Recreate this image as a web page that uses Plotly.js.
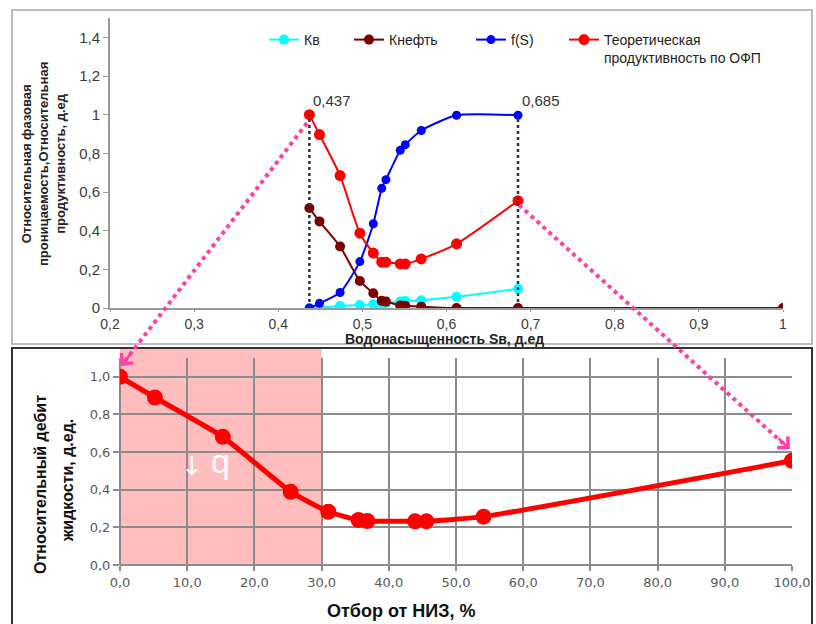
<!DOCTYPE html>
<html>
<head>
<meta charset="utf-8">
<script src="https://cdn.plot.ly/plotly-3.0.1.min.js"></script>
<style>
html,body{margin:0;padding:0;background:#fff;}
#chart{width:816px;height:624px;}
</style>
</head>
<body>
<div id="chart"></div>
<script>
// ---- Top chart data (water saturation, relative permeabilities) ----
var sw      = [0.437, 0.449, 0.4735, 0.497, 0.513, 0.523, 0.528, 0.545, 0.551, 0.570, 0.612, 0.685];
var kvSw    = [0.437, 0.449, 0.4735, 0.497, 0.513, 0.523, 0.528, 0.545, 0.551, 0.570, 0.612, 0.685];
var kv      = [0.0, 0.002, 0.010, 0.015, 0.020, 0.024, 0.026, 0.033, 0.036, 0.040, 0.058, 0.100];
var kneftSw = [0.437, 0.449, 0.4735, 0.497, 0.513, 0.523, 0.528, 0.545, 0.551, 0.570, 0.612, 0.685, 1.0];
var kneft   = [0.517, 0.448, 0.318, 0.140, 0.076, 0.037, 0.033, 0.013, 0.012, 0.007, 0.0, 0.0, 0.0];
var fs      = [0.0, 0.024, 0.080, 0.240, 0.436, 0.619, 0.664, 0.816, 0.845, 0.918, 0.997, 0.997];
var prod    = [1.0, 0.897, 0.685, 0.387, 0.284, 0.237, 0.237, 0.228, 0.228, 0.254, 0.332, 0.555];
var markSw  = [0.437, 0.685];

// ---- Bottom chart data ----
var otbor = [0, 5.2, 15.3, 25.4, 31.0, 35.5, 36.8, 43.9, 45.6, 54.1, 100];
var debit = [1.0, 0.89, 0.681, 0.389, 0.283, 0.239, 0.234, 0.232, 0.232, 0.257, 0.554];
var zoneEnd = 30;

var W = 816, H = 624;
function px(x){ return x / W; }
function py(y){ return 1 - y / H; }

var legFont = {family: 'Liberation Sans, Arial, sans-serif', size: 14, color: '#222'};

var traces = [
  {x: kvSw, y: kv, name: 'Кв', mode: 'lines+markers', xaxis: 'x', yaxis: 'y',
   line: {color: '#00FFFF', width: 2, shape: 'spline', smoothing: 0.6},
   marker: {color: '#00FFFF', size: 10}, legend: 'legend'},
  {x: kneftSw, y: kneft, name: 'Кнефть', mode: 'lines+markers', xaxis: 'x', yaxis: 'y',
   line: {color: '#7B0000', width: 2, shape: 'spline', smoothing: 0.6},
   marker: {color: '#7B0000', size: 10}, legend: 'legend2'},
  {x: sw, y: fs, name: 'f(S)', mode: 'lines+markers', xaxis: 'x', yaxis: 'y',
   line: {color: '#0000FF', width: 2, shape: 'spline', smoothing: 0.6},
   marker: {color: '#0000FF', size: 9}, legend: 'legend3'},
  {x: sw, y: prod, name: 'Теоретическая<br>продуктивность по ОФП', mode: 'lines+markers', xaxis: 'x', yaxis: 'y',
   line: {color: '#FF0000', width: 2, shape: 'spline', smoothing: 0.6},
   marker: {color: '#FF0000', size: 11}, legend: 'legend4'},
  {x: otbor, y: debit, name: 'Относительный дебит', mode: 'lines+markers', xaxis: 'x2', yaxis: 'y2',
   line: {color: '#FF0000', width: 5, shape: 'spline', smoothing: 0.4},
   marker: {color: '#FF0000', size: 16}, showlegend: false}
];

var gridC = '#8c8c8c';
var pink = '#FF3FA4';

function legendAt(xp){
  return {x: px(xp), xanchor: 'left', y: py(24), yanchor: 'top', orientation: 'v',
          bgcolor: 'rgba(0,0,0,0)', font: legFont, valign: 'top', tracegroupgap: 0};
}

var layout = {
  width: W, height: H,
  margin: {l: 0, r: 0, t: 0, b: 0},
  paper_bgcolor: '#ffffff',
  plot_bgcolor: 'rgba(0,0,0,0)',
  separators: ', ',
  font: {family: 'Liberation Sans, Arial, sans-serif', color: '#333'},
  legend: legendAt(264),
  legend2: legendAt(349),
  legend3: legendAt(471),
  legend4: legendAt(564),
  xaxis: {
    domain: [px(110), px(783)], range: [0.2, 1.0], anchor: 'y',
    dtick: 0.1, tick0: 0.2, showgrid: false, zeroline: false,
    showline: true, linecolor: '#9a9a9a', linewidth: 2,
    ticks: 'outside', ticklen: 2, tickcolor: '#9a9a9a',
    tickfont: {family: 'Liberation Sans, Arial, sans-serif', size: 14, color: '#3a3a3a'},
    automargin: false
  },
  yaxis: {
    domain: [py(308), py(18)], range: [0, 1.5], anchor: 'x',
    dtick: 0.2, tick0: 0, showgrid: false, zeroline: false,
    showline: true, linecolor: '#9a9a9a', linewidth: 2,
    ticks: 'outside', ticklen: 5, tickcolor: '#9a9a9a',
    tickfont: {family: 'Liberation Sans, Arial, sans-serif', size: 15, color: '#3a3a3a'},
    automargin: false
  },
  xaxis2: {
    domain: [px(120), px(792)], range: [0, 100], anchor: 'y2',
    dtick: 10, tick0: 0, tickformat: '.1f',
    showgrid: true, gridcolor: gridC, gridwidth: 2,
    zeroline: true, zerolinecolor: gridC, zerolinewidth: 2,
    showline: false, ticks: 'outside', ticklen: 5, tickcolor: gridC, tickwidth: 2,
    tickfont: {family: 'DejaVu Sans, Verdana, sans-serif', size: 13, color: '#595959'},
    automargin: false
  },
  yaxis2: {
    domain: [py(565), py(358)], range: [0, 1.1], anchor: 'x2',
    dtick: 0.2, tick0: 0, tickformat: '.1f',
    showgrid: true, gridcolor: gridC, gridwidth: 2,
    zeroline: true, zerolinecolor: gridC, zerolinewidth: 2,
    showline: false, ticks: 'outside', ticklen: 6, tickcolor: gridC, tickwidth: 2,
    tickfont: {family: 'DejaVu Sans, Verdana, sans-serif', size: 13, color: '#595959'},
    automargin: false
  },
  shapes: [
    // frames
    {type: 'rect', xref: 'paper', yref: 'paper', x0: px(12), x1: px(812), y0: py(344), y1: py(10),
     line: {color: '#a6a6a6', width: 1.5}, layer: 'below'},
    {type: 'rect', xref: 'paper', yref: 'paper', x0: px(12), x1: px(812), y0: py(640), y1: py(348),
     line: {color: '#333333', width: 2}, layer: 'below'},
    // shaded zone in bottom chart
    {type: 'rect', xref: 'x2', yref: 'paper', x0: 0, x1: zoneEnd, y0: py(565), y1: py(349),
     fillcolor: '#FFBDBD', line: {width: 0}, layer: 'below'},
    // vertical dotted marker lines
    {type: 'line', xref: 'x', yref: 'y', x0: markSw[0], x1: markSw[0], y0: 0, y1: 1,
     line: {color: '#333', width: 2.5, dash: 'dot'}},
    {type: 'line', xref: 'x', yref: 'y', x0: markSw[1], x1: markSw[1], y0: 0, y1: 1,
     line: {color: '#333', width: 2.5, dash: 'dot'}},
    // pink dotted connector arrows
    {type: 'line', xref: 'paper', yref: 'paper', x0: px(307), y0: py(123), x1: px(125), y1: py(361),
     line: {color: pink, width: 4, dash: 'dot'}},
    {type: 'line', xref: 'paper', yref: 'paper', x0: px(519), y0: py(205), x1: px(785), y1: py(445),
     line: {color: pink, width: 4, dash: 'dot'}}
  ],
  annotations: [
    {xref: 'x', yref: 'y', x: markSw[0], y: 1, text: String(markSw[0]).replace('.', ','),
     showarrow: false, xanchor: 'left', yanchor: 'bottom', xshift: 2, yshift: 4,
     font: {family: 'Liberation Sans, Arial, sans-serif', size: 15, color: '#333'}},
    {xref: 'x', yref: 'y', x: markSw[1], y: 1, text: String(markSw[1]).replace('.', ','),
     showarrow: false, xanchor: 'left', yanchor: 'bottom', xshift: 2, yshift: 4,
     font: {family: 'Liberation Sans, Arial, sans-serif', size: 15, color: '#333'}},
    // axis titles
    {xref: 'paper', yref: 'paper', x: px(44), y: py(164), xanchor: 'center', yanchor: 'middle',
     textangle: -90, showarrow: false,
     text: '<b>Относительная фазовая<br>проницаемость,Относительная<br>продуктивность, д.ед</b>',
     font: {family: 'Liberation Sans, Arial, sans-serif', size: 13, color: '#222'}},
    {xref: 'paper', yref: 'paper', x: px(445), y: py(339), xanchor: 'center', yanchor: 'middle',
     showarrow: false, text: '<b>Водонасыщенность Sв, д.ед</b>',
     font: {family: 'Liberation Sans, Arial, sans-serif', size: 14, color: '#222'}},
    {xref: 'paper', yref: 'paper', x: px(40), y: py(485), xanchor: 'center', yanchor: 'middle',
     textangle: -90, showarrow: false, text: '<b>Относительный дебит</b>',
     font: {family: 'Liberation Sans, Arial, sans-serif', size: 16, color: '#111'}},
    {xref: 'paper', yref: 'paper', x: px(67), y: py(481), xanchor: 'center', yanchor: 'middle',
     textangle: -90, showarrow: false, text: '<b>жидкости, д.ед.</b>',
     font: {family: 'Liberation Sans, Arial, sans-serif', size: 16, color: '#111'}},
    {xref: 'paper', yref: 'paper', x: px(401), y: py(611), xanchor: 'center', yanchor: 'middle',
     showarrow: false, text: '<b>Отбор от НИЗ, %</b>',
     font: {family: 'Liberation Sans, Arial, sans-serif', size: 18, color: '#111'}},
    // q label
    {xref: 'paper', yref: 'paper', x: px(192), y: py(466), xanchor: 'center', yanchor: 'middle',
     showarrow: false, text: '↓',
     font: {family: 'DejaVu Sans, sans-serif', size: 26, color: '#ffffff'}},
    {xref: 'paper', yref: 'paper', x: px(221), y: py(461), xanchor: 'center', yanchor: 'middle',
     showarrow: false, text: 'q',
     font: {family: 'Liberation Sans, Arial, sans-serif', size: 34, color: '#ffffff'}},
    // arrowheads
    {xref: 'paper', yref: 'paper', x: px(121), y: py(366), ax: 12, ay: -15, text: '',
     showarrow: true, arrowhead: 4, arrowsize: 1.2, arrowwidth: 2.5, arrowcolor: pink, standoff: 0},
    {xref: 'paper', yref: 'paper', x: px(790), y: py(449), ax: -13, ay: -12, text: '',
     showarrow: true, arrowhead: 4, arrowsize: 1.2, arrowwidth: 2.5, arrowcolor: pink, standoff: 0}
  ]
};

Plotly.newPlot('chart', traces, layout, {displayModeBar: false, staticPlot: true});
</script>
</body>
</html>
